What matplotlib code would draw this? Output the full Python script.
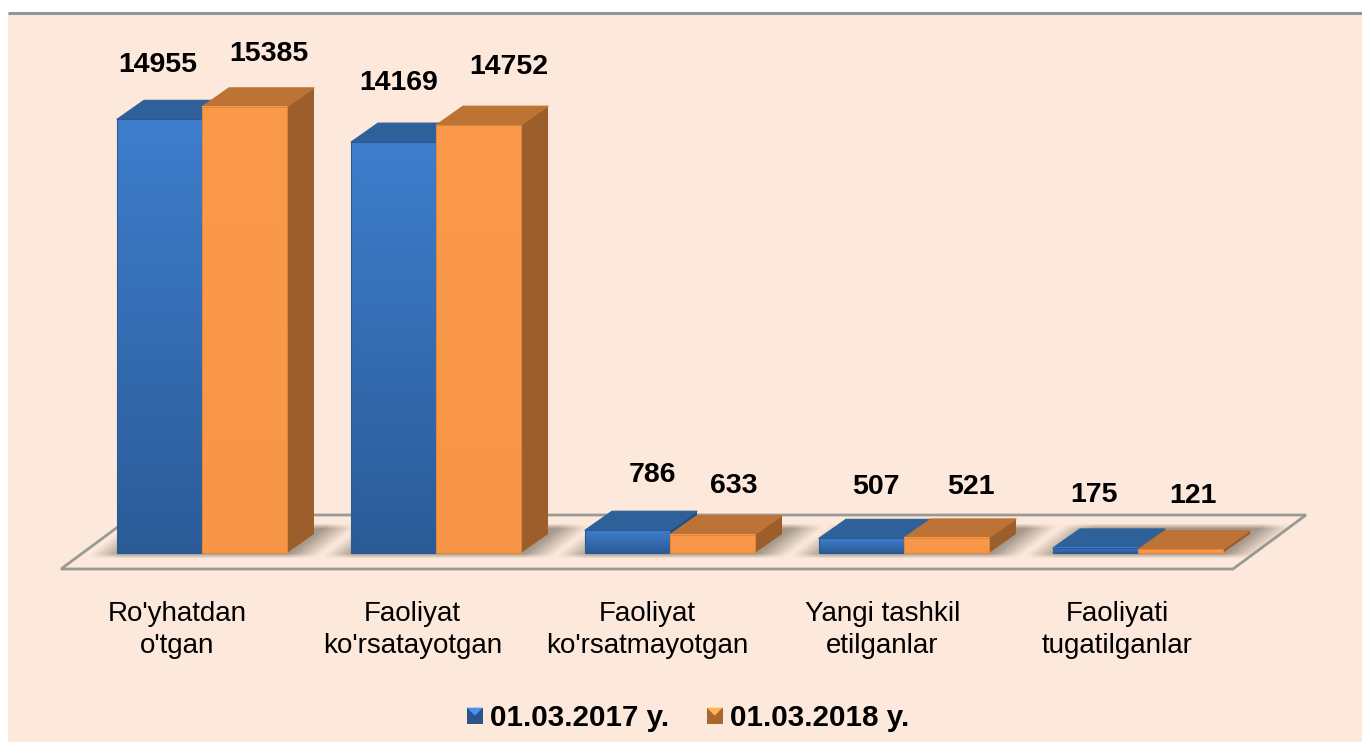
import numpy as np
import matplotlib
matplotlib.use('Agg')
import matplotlib.pyplot as plt
from matplotlib.colors import LinearSegmentedColormap, to_rgb
from matplotlib.legend_handler import HandlerBase
from matplotlib.lines import Line2D
from matplotlib.patches import Polygon, Rectangle

plt.rcParams['font.family'] = ['Liberation Sans', 'DejaVu Sans']

# Data
categories = ["Ro'yhatdan\no'tgan", "Faoliyat\nko'rsatayotgan", "Faoliyat\nko'rsatmayotgan",
              "Yangi tashkil\netilganlar", "Faoliyati\ntugatilganlar"]
values_2017 = [14955, 14169, 786, 507, 175]
values_2018 = [15385, 14752, 633, 521, 121]
legend_labels = ['01.03.2017 y.', '01.03.2018 y.']

# Label nudges in pixels, the labels were placed by hand in the original
label_dx_2017 = [-2, 5, 25, 14, -1]
label_dy_2017 = [54, 59, 55, 51, 53]
label_dx_2018 = [24, 30, 21, 24, 12]
label_dy_2018 = [53, 58, 49, 51, 53]

W, H = 1362, 742
PX_X = 234.0      # pixels per category
PX_Y = 0.029      # pixels per value unit
X0, Y0 = 202, 553  # pixel of first category centre / of the value zero
BAR = 85.0 / PX_X
DX = 27.0 / PX_X
DY = 19.0 / PX_Y
BG = '#fde9db'

blue = dict(front=('#3e7ecd', '#2b5b97'), top='#2e6099', side='#244f80', edge='#2a5a96')
orange = dict(front=('#fb9a4a', '#f79646'), top='#bd7335', side='#9c5f2b', edge='#e0853c')


def px_x(x):
    return (x - X0) / PX_X


def px_y(y):
    return (Y0 - y) / PX_Y


fig = plt.figure(figsize=(W / 100, H / 100), dpi=100, facecolor='white')
ax = fig.add_axes([0, 0, 1, 1])
ax.axis('off')

# background below the grey top rule
ax.add_patch(Rectangle((px_x(8), px_y(H)), (W - 8) / PX_X, (H - 13) / PX_Y, fc=BG, ec='none', zorder=0))
ax.plot([px_x(8), px_x(W)], [px_y(13), px_y(13)], color='#959595', lw=2.2, zorder=1, solid_capstyle='butt')

# floor
floor = [(61, 569), (1233, 569), (1306, 515), (134, 515)]
ax.add_patch(Polygon([(px_x(a), px_y(b)) for a, b in floor], closed=True, fc=BG, ec='#9a9a94', lw=2, zorder=1))

# soft shadow under the bars
xx, yy = np.meshgrid(np.arange(W), np.arange(H))
mask = np.zeros((H, W))
for i in range(len(categories)):
    left = X0 + i * PX_X - 100
    right = X0 + i * PX_X + 100
    skew = (556 - yy) * 1.3
    mask[(yy > 525) & (yy < 556) & (xx > left + skew) & (xx < right + skew)] = 1
kernel_x = np.ones(31) / 31
kernel_y = np.ones(5) / 5
mask = np.apply_along_axis(lambda r: np.convolve(r, kernel_x, mode='same'), 1, mask)
mask = np.apply_along_axis(lambda c: np.convolve(c, kernel_y, mode='same'), 0, mask)
shadow = np.zeros((H, W, 4))
shadow[..., :3] = to_rgb('#8f8578')
shadow[..., 3] = mask * 0.8
ax.imshow(shadow, extent=(px_x(0), px_x(W), px_y(H), px_y(0)), aspect='auto', zorder=2, interpolation='bilinear')


def draw_bar(x, v, style, z):
    # x is the left edge of the front face
    ax.add_patch(Polygon([(x + BAR, 0), (x + BAR + DX, DY), (x + BAR + DX, v + DY), (x + BAR, v)],
                         closed=True, fc=style['side'], ec='none', zorder=z))
    ax.add_patch(Polygon([(x, v), (x + BAR, v), (x + BAR + DX, v + DY), (x + DX, v + DY)],
                         closed=True, fc=style['top'], ec=style['top'], lw=0.8, joinstyle='round', zorder=z))
    cmap = LinearSegmentedColormap.from_list('front', style['front'])
    ax.imshow(np.linspace(0, 1, 256).reshape(-1, 1), cmap=cmap, extent=(x, x + BAR, 0, v),
              origin='upper', aspect='auto', zorder=z + 0.1)
    ax.add_patch(Rectangle((x, 0), BAR, v, fc='none', ec=style['edge'], lw=0.8, zorder=z + 0.2))


for i in range(len(categories)):
    draw_bar(i - BAR, values_2017[i], blue, 3 + i)
    draw_bar(i, values_2018[i], orange, 3.5 + i)

    ax.annotate(str(values_2017[i]), (i - BAR / 2, values_2017[i]),
                xytext=(label_dx_2017[i] * 0.72, label_dy_2017[i] * 0.72), textcoords='offset points',
                ha='center', va='center', fontsize=20.5, fontweight='bold', color='black', zorder=20)
    ax.annotate(str(values_2018[i]), (i + BAR / 2, values_2018[i]),
                xytext=(label_dx_2018[i] * 0.72, label_dy_2018[i] * 0.72), textcoords='offset points',
                ha='center', va='center', fontsize=20.5, fontweight='bold', color='black', zorder=20)
    ax.text(i * 235 / 234 - 0.106, px_y(630), categories[i], ha='center', va='center', fontsize=20,
            color='black', linespacing=1.33, zorder=20)


class BevelHandler(HandlerBase):
    # little bevelled square used as legend key
    def create_artists(self, legend, orig, xd, yd, width, height, fontsize, trans):
        s = 11.5
        x, y = width - s, (height - s) / 2
        c = orig.get_color()
        dark = tuple(v * 0.72 for v in to_rgb(c))
        light = tuple(min(1, v * 1.25) for v in to_rgb(c))
        body = Rectangle((x, y), s, s, fc=dark, ec='none', transform=trans)
        tri = Polygon([(x, y + s), (x + s, y + s), (x + s / 2, y + s / 2)], closed=True,
                      fc=light, ec='none', transform=trans)
        return [body, tri]


handles = [Line2D([], [], color='#3a75bf'), Line2D([], [], color='#e9903f')]
leg = ax.legend(handles, legend_labels, loc='center', bbox_to_anchor=(688 / W, 1 - 718 / H), ncol=2,
                frameon=False, handler_map={Line2D: BevelHandler()}, handlelength=0.55,
                handletextpad=0.25, columnspacing=1.25,
                prop={'size': 21.3, 'weight': 'bold'})

ax.set_xlim(px_x(0), px_x(W))
ax.set_ylim(px_y(H), px_y(0))

fig.savefig('out.png', dpi=100, facecolor='white')
